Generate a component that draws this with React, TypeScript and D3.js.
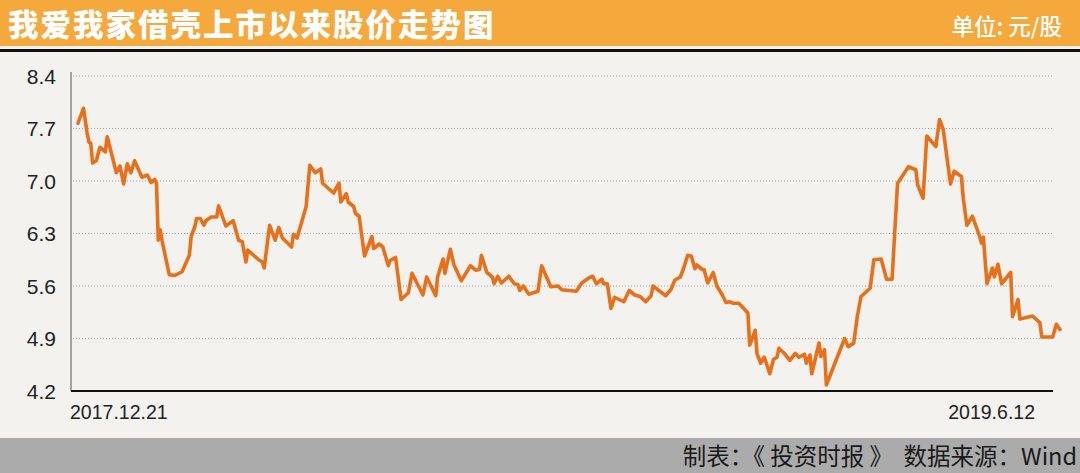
import React from "react";
import * as d3 from "d3";

const title = "我爱我家借壳上市以来股价走势图";
const unitLabel = "单位: 元/股";
const footerText = "制表：《 投资时报 》  数据来源：Wind";
const xLabels = ["2017.12.21", "2019.6.12"];
const yTicks = [4.2, 4.9, 5.6, 6.3, 7.0, 7.7, 8.4];
const startDate = "2017-12-21";
const endDate = "2019-06-12";

// days since 2017-12-21
const dayOffsets = [
  0, 3, 5, 6, 7, 8, 10, 12, 15, 16, 18, 21, 23, 25, 27, 29, 31, 35, 38, 40,
  42, 43, 44, 45, 46, 50, 53, 57, 61, 62, 64, 65, 67, 69, 70, 73, 76, 77, 81, 85,
  88, 90, 92, 93, 99, 101, 102, 105, 108, 110, 112, 117, 118, 120, 125, 127, 130, 133, 134, 140,
  143, 144, 147, 148, 151, 152, 154, 157, 159, 161, 162, 165, 167, 170, 171, 174, 177, 181, 183, 189,
  191, 196, 197, 200, 201, 204, 206, 210, 215, 218, 220, 221, 224, 227, 228, 230, 232, 236, 239, 241,
  242, 244, 247, 252, 254, 259, 263, 265, 273, 276, 280, 282, 284, 287, 288, 290, 292, 294, 299, 302,
  305, 308, 311, 314, 315, 322, 325, 327, 330, 332, 334, 336, 338, 339, 342, 343, 345, 348, 350, 353,
  355, 357, 359, 362, 364, 367, 368, 371, 372, 374, 376, 379, 381, 383, 384, 387, 390, 393, 395, 398,
  399, 401, 402, 406, 407, 409, 410, 420, 422, 425, 427, 429, 434, 436, 440, 443, 446, 449, 455, 459,
  460, 463, 465, 470, 472, 474, 478, 480, 484, 485, 487, 490, 494, 495, 496, 498, 501, 502, 504, 506,
  511, 512, 515, 516, 523, 527, 528, 534, 536, 538,
];

// closing price, 元/股
const prices = [
  7.77, 7.97, 7.64, 7.52, 7.5, 7.24, 7.27, 7.45, 7.39, 7.59, 7.4, 7.11, 7.2, 6.96, 7.23, 7.11, 7.27, 7.05, 7.08, 6.98,
  7.02, 6.97, 6.21, 6.35, 6.21, 5.75, 5.74, 5.79, 6.01, 6.26, 6.39, 6.5, 6.5, 6.41, 6.47, 6.52, 6.52, 6.67, 6.4, 6.47,
  6.21, 6.19, 5.92, 6.08, 5.95, 5.92, 5.84, 6.41, 6.21, 6.38, 6.24, 6.12, 6.29, 6.24, 6.66, 7.21, 7.11, 7.16, 6.97, 6.84,
  6.97, 6.72, 6.83, 6.72, 6.66, 6.57, 6.53, 6.0, 6.13, 6.26, 6.1, 6.16, 6.12, 5.87, 5.94, 5.98, 5.42, 5.51, 5.77, 5.48,
  5.72, 5.47, 5.72, 5.96, 5.77, 6.09, 5.88, 5.67, 5.87, 5.81, 5.82, 6.01, 5.78, 5.72, 5.63, 5.73, 5.64, 5.73, 5.63, 5.62,
  5.54, 5.6, 5.49, 5.53, 5.87, 5.59, 5.6, 5.55, 5.53, 5.64, 5.71, 5.73, 5.63, 5.69, 5.63, 5.63, 5.3, 5.45, 5.39, 5.54,
  5.48, 5.46, 5.39, 5.47, 5.6, 5.47, 5.56, 5.68, 5.72, 5.85, 6.01, 6.0, 5.83, 5.88, 5.82, 5.82, 5.64, 5.78, 5.6, 5.48,
  5.38, 5.39, 5.37, 5.37, 5.32, 5.24, 4.81, 5.01, 4.7, 4.57, 4.65, 4.43, 4.62, 4.65, 4.77, 4.7, 4.61, 4.7, 4.65, 4.69,
  4.57, 4.68, 4.43, 4.84, 4.66, 4.75, 4.28, 4.9, 4.79, 4.84, 5.2, 5.46, 5.57, 5.95, 5.96, 5.69, 5.69, 6.97, 7.19, 7.15,
  6.95, 6.77, 7.6, 7.46, 7.82, 7.69, 6.96, 7.13, 7.06, 6.77, 6.41, 6.53, 6.26, 6.17, 6.25, 5.63, 5.84, 5.72, 5.89, 5.63,
  5.78, 5.19, 5.42, 5.16, 5.2, 5.11, 4.92, 4.92, 5.09, 5.02,
];

const W = 1080;
const H = 473;

export default function App() {
  const t0 = new Date(startDate + "T00:00:00");
  const t1 = new Date(endDate + "T00:00:00");
  const x = d3.scaleTime().domain([t0, t1]).range([78, 1060]);
  const y = d3.scaleLinear().domain([4.2, 8.4]).range([391, 76]);

  const points = dayOffsets.map((d, i) => ({
    date: d3.timeDay.offset(t0, d),
    v: prices[i],
  }));

  const line = d3
    .line<{ date: Date; v: number }>()
    .x((d) => x(d.date))
    .y((d) => y(d.v))
    .curve(d3.curveLinear);

  const axisLeft = 71;
  const axisRight = 1053;

  return (
    <svg
      width={W}
      height={H}
      style={{ position: "absolute", left: 0, top: 0, display: "block" }}
      xmlns="http://www.w3.org/2000/svg"
    >
      <rect x={0} y={0} width={W} height={H} fill="#F3F2EE" />
      {/* title bar */}
      <rect x={0} y={0} width={W} height={46} fill="#F5A83B" />
      <rect x={0} y={49} width={W} height={3} fill="#111" />
      <text
        x={8}
        y={35.5}
        fill="#fff"
        fontFamily="'Noto Sans CJK SC', sans-serif"
        fontWeight={900}
        fontSize={30.5}
        letterSpacing={2}
      >
        {title}
      </text>
      <text
        x={1062}
        y={35}
        fill="#fff"
        textAnchor="end"
        fontFamily="'Noto Sans CJK SC', sans-serif"
        fontWeight={500}
        fontSize={22.5}
        style={{ whiteSpace: "pre" }}
      >
        {unitLabel}
      </text>

      {/* grid */}
      {yTicks.slice(1).map((t) => (
        <line
          key={"g" + t}
          x1={axisLeft + 2}
          x2={axisRight}
          y1={y(t)}
          y2={y(t)}
          stroke="#A5A5A5"
          strokeWidth={1}
          strokeDasharray="1,2"
        />
      ))}
      {/* y tick labels */}
      {yTicks.map((t) => (
        <text
          key={"yl" + t}
          x={56}
          y={y(t) + 7.5}
          textAnchor="end"
          fontFamily="'Liberation Sans', Arial, sans-serif"
          fontSize={21}
          fill="#222"
        >
          {t.toFixed(1)}
        </text>
      ))}
      {/* axes */}
      <line x1={axisLeft} x2={axisLeft} y1={72} y2={391} stroke="#555" strokeWidth={1} />
      <line x1={axisLeft} x2={axisRight} y1={391} y2={391} stroke="#111" strokeWidth={2} />

      {/* x labels */}
      <text
        x={70}
        y={419}
        fontFamily="'Liberation Sans', Arial, sans-serif"
        fontSize={19.5}
        fill="#222"
      >
        {xLabels[0]}
      </text>
      <text
        x={1035}
        y={419}
        textAnchor="end"
        fontFamily="'Liberation Sans', Arial, sans-serif"
        fontSize={19.5}
        fill="#222"
      >
        {xLabels[1]}
      </text>

      {/* price line */}
      <path
        d={line(points) || ""}
        fill="none"
        stroke="#E8701A"
        strokeWidth={3.6}
        strokeLinejoin="round"
        strokeLinecap="round"
      />

      {/* footer */}
      <rect x={0} y={438} width={W} height={H - 438} fill="#ABABAB" />
      <text
        x={1077}
        y={465}
        textAnchor="end"
        fontFamily="'Noto Sans CJK SC', sans-serif"
        fontSize={23.5}
        fill="#1a1a1a"
        style={{ whiteSpace: "pre" }}
      >
        {footerText}
      </text>
    </svg>
  );
}
